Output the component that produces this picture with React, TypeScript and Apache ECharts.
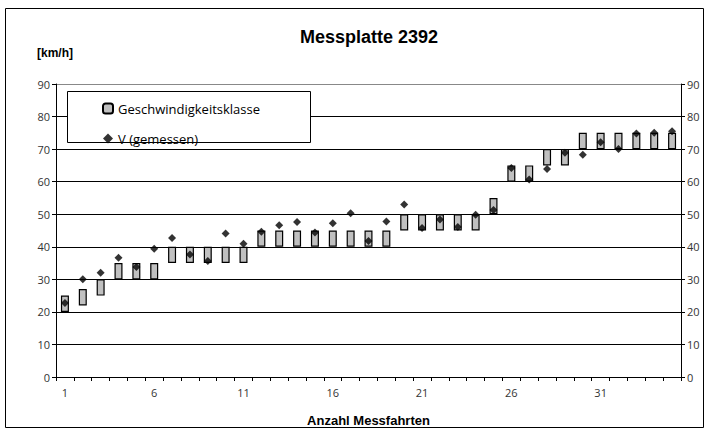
import React, { useEffect, useRef } from "react";
import * as echarts from "echarts";

const categories = ["1","2","3","4","5","6","7","8","9","10","11","12","13","14","15","16","17","18","19","20","21","22","23","24","25","26","27","28","29","30","31","32","33","34","35"];
const classLow = [20,22,25,30,30,30,35,35,35,35,35,40,40,40,40,40,40,40,40,45,45,45,45,45,50,60,60,65,65,70,70,70,70,70,70];
const classHigh = [25,27,30,35,35,35,40,40,40,40,40,45,45,45,45,45,45,45,45,50,50,50,50,50,55,65,65,70,70,75,75,75,75,75,75];
const measured = [22.7,30,32,36.6,33.8,39.4,42.7,37.6,35.6,44.1,40.9,44.6,46.6,47.6,44.4,47.2,50.3,41.8,47.8,53.0,45.8,48.4,46.1,49.8,51.3,64.2,60.7,63.9,68.9,68.3,72.1,70.0,74.8,75.0,75.5];
const yTicks = [0, 90, 10];

const FONT = "'Liberation Sans', Arial, sans-serif";
const LABEL_FONT = "'Open Sans', 'Liberation Sans', sans-serif";

export default function App() {
  const ref = useRef<HTMLDivElement>(null);
  useEffect(() => {
    if (!ref.current) return;
    const chart = echarts.init(ref.current, undefined, { renderer: "svg" });
    const rangeData = classHigh.map((h, i) => h - classLow[i]);
    const yAxisBase = {
      type: "value",
      min: yTicks[0],
      max: yTicks[1],
      interval: yTicks[2],
      axisLine: { show: true, lineStyle: { color: "#000", width: 1 } },
      axisTick: { show: true, inside: false, length: 4, lineStyle: { color: "#000" } },
      axisLabel: { color: "#333", fontSize: 11, fontFamily: LABEL_FONT, margin: 6 },
    };
    chart.setOption({
      animation: false,
      backgroundColor: "#fff",
      title: {
        text: "Messplatte 2392",
        left: 364,
        textAlign: "center",
        top: 23,
        textStyle: { fontSize: 18, fontWeight: "bold", fontFamily: FONT, color: "#000" },
      },
      grid: { left: 56, right: 28, top: 84, bottom: 52.5, containLabel: false },
      legend: {
        orient: "vertical",
        left: 97,
        top: 97,
        z: 10,
        itemGap: 17,
        itemWidth: 10,
        itemHeight: 10,
        data: ["Geschwindigkeitsklasse", "V (gemessen)"],
        textStyle: { fontSize: 13, fontFamily: LABEL_FONT, color: "#000" },
        selectedMode: false,
      },
      xAxis: {
        type: "category",
        data: categories,
        boundaryGap: true,
        name: "Anzahl Messfahrten",
        nameLocation: "middle",
        nameGap: 37,
        nameTextStyle: { fontSize: 13, fontWeight: "bold", fontFamily: FONT, color: "#000" },
        axisLine: { show: true, lineStyle: { color: "#000", width: 1 } },
        axisTick: { show: true, interval: 0, inside: false, length: 4, alignWithLabel: false, lineStyle: { color: "#000" } },
        axisLabel: { interval: 4, color: "#333", fontSize: 11, fontFamily: LABEL_FONT, margin: 10 },
        splitLine: { show: false },
      },
      yAxis: [
        {
          ...yAxisBase,
          position: "left",
          splitLine: {
            show: true,
            lineStyle: {
              color: ["#000", "#000", "#000", "#000", "#000", "#000", "#000", "#000", "#000", "#888"],
              width: 1,
            },
          },
        },
        { ...yAxisBase, position: "right", splitLine: { show: false } },
      ],
      graphic: [
        {
          type: "rect",
          shape: { x: 5.5, y: 8.5, width: 698, height: 419 },
          style: { fill: "none", stroke: "#000", lineWidth: 1 },
          z: 1,
          silent: true,
        },
        {
          type: "rect",
          shape: { x: 67.5, y: 91.5, width: 243, height: 51 },
          style: { fill: "#fff", stroke: "#000", lineWidth: 1 },
          z: 5,
          silent: true,
        },
        {
          type: "text",
          x: 37,
          y: 53,
          style: { text: "[km/h]", fontSize: 12, fontWeight: "bold", fontFamily: FONT, fill: "#000", verticalAlign: "middle" },
          z: 5,
          silent: true,
        },
      ],
      series: [
        {
          name: "base",
          type: "bar",
          stack: "klasse",
          data: classLow,
          barWidth: 8,
          itemStyle: { color: "transparent", borderWidth: 0 },
          emphasis: { disabled: true },
          silent: true,
        },
        {
          name: "Geschwindigkeitsklasse",
          type: "bar",
          stack: "klasse",
          data: rangeData,
          barWidth: 8,
          itemStyle: { color: "#c0c0c0", borderColor: "#000", borderWidth: 1.2 },
          emphasis: { disabled: true },
        },
        {
          name: "V (gemessen)",
          type: "scatter",
          data: measured,
          symbol: "diamond",
          symbolSize: 8,
          itemStyle: { color: "#000" },
          z: 3,
        },
      ],
    });
    return () => chart.dispose();
  }, []);
  return <div ref={ref} style={{ position: "fixed", left: 0, top: 0, width: 709, height: 432 }} />;
}
